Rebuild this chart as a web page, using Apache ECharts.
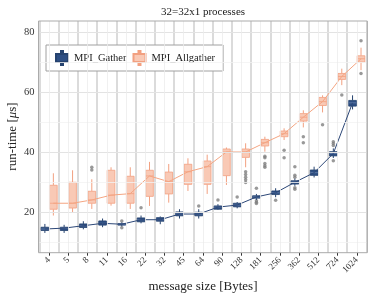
<!DOCTYPE html>
<html><head><meta charset="utf-8">
<script src="https://cdn.jsdelivr.net/npm/echarts@6/dist/echarts.min.js"></script>
<style>html,body{margin:0;padding:0;background:#fff}#c{width:374px;height:299px}</style>
</head><body><div id="c"></div>
<script>
// ---- data ----
const categories = ['4','5','8','11','16','22','32','45','64','90','128','181','256','362','512','724','1024'];
// [lower whisker, q1, median, q3, upper whisker]
const gatherBoxes = [
  [13.1, 13.9, 14.4, 15.0, 16.1],
  [13.1, 13.9, 14.7, 15.0, 15.8],
  [14.3, 14.9, 15.5, 16.1, 17.0],
  [15.0, 15.7, 16.3, 17.1, 17.9],
  [15.3, 15.7, 16.0, 16.2, 16.6],
  [16.3, 16.8, 17.5, 18.1, 18.9],
  [16.0, 17.0, 17.5, 18.2, 18.6],
  [17.9, 18.8, 19.4, 20.1, 21.0],
  [17.9, 18.8, 19.4, 20.0, 21.0],
  [20.8, 21.0, 21.7, 22.1, 22.7],
  [21.3, 21.8, 22.4, 23.0, 23.4],
  [24.1, 24.7, 25.1, 25.5, 26.1],
  [25.0, 25.9, 26.5, 27.1, 28.0],
  [28.8, 29.4, 30.0, 30.5, 31.2],
  [31.6, 32.3, 33.2, 34.1, 35.2],
  [38.1, 38.8, 39.6, 40.2, 41.3],
  [54.3, 55.4, 56.5, 57.3, 59.0]
];
const allgatherBoxes = [
  [18.9, 21.0, 23.0, 29.0, 33.0],
  [20.0, 21.4, 23.0, 30.0, 34.0],
  [21.1, 23.0, 24.1, 27.0, 31.0],
  [22.2, 23.0, 25.7, 34.0, 35.0],
  [21.1, 23.0, 26.2, 32.0, 35.0],
  [22.1, 25.3, 32.1, 34.0, 36.8],
  [23.2, 26.1, 30.2, 33.4, 36.1],
  [27.1, 29.3, 33.5, 36.0, 38.0],
  [26.1, 29.3, 35.2, 37.1, 39.2],
  [29.1, 32.2, 40.1, 41.1, 41.6],
  [35.0, 38.3, 40.1, 41.1, 43.0],
  [40.2, 42.1, 43.2, 44.3, 45.2],
  [44.1, 45.2, 46.2, 47.1, 48.0],
  [48.3, 50.4, 51.7, 52.9, 54.0],
  [53.3, 55.6, 56.9, 58.3, 59.0],
  [62.4, 64.3, 65.3, 66.3, 67.9],
  [67.4, 70.1, 71.2, 72.2, 74.9]
];
// [category index, value]
const gatherOutliers = [
  [4, 17.1], [4, 14.8], [5, 21.5], [8, 22.1], [9, 24.1], [10, 25.1],
  [11, 28.0], [11, 23.8], [11, 23.3], [11, 22.9], [12, 24.0],
  [13, 35.2], [13, 32.3], [13, 31.7], [13, 28.2], [13, 27.7],
  [15, 43.5], [15, 42.9], [15, 42.3], [15, 37.2]
];
const allgatherOutliers = [
  [2, 35.0], [2, 34.1],
  [10, 33.5], [10, 32.6], [10, 31.7], [10, 30.8], [10, 29.9],
  [11, 38.7], [11, 38.2], [11, 36.3], [11, 35.5], [11, 35.0],
  [12, 40.7], [12, 38.2], [13, 45.2], [13, 43.2], [14, 49.2], [15, 59.1],
  [16, 77.2], [16, 66.3]
];
const yTicks = [20, 40, 60, 80];
const yMinorTicks = [10, 30, 50, 70];

// ---- style ----
const FONT = 'Liberation Serif';
const OFF_G = -0.22, OFF_A = 0.22;
const G_FILL = '#2d4e83', G_STROKE = '#26436f', G_MED = '#6680ab', G_LINE = '#2c4777';
const A_FILL = '#f9c9b5', A_STROKE = '#f2a080', A_MED = '#f2a080', A_LINE = '#f4a582';

function makeRender(off, fill, stroke, medColor) {
  return function (params, api) {
    const i = api.value(0);
    const band = api.size([1, 0])[0];
    const cx = api.coord([i, 0])[0] + off * band;
    const w = band * 0.4;
    const y = k => api.coord([i, api.value(k)])[1];
    const lo = y(1), q1 = y(2), med = y(3), q3 = y(4), hi = y(5);
    return {type: 'group', children: [
      {type: 'line', shape: {x1: cx, y1: hi, x2: cx, y2: q3}, style: {stroke: stroke, lineWidth: 1}},
      {type: 'line', shape: {x1: cx, y1: q1, x2: cx, y2: lo}, style: {stroke: stroke, lineWidth: 1}},
      {type: 'rect', shape: {x: cx - w / 2, y: q3, width: w, height: q1 - q3}, style: {fill: fill, stroke: stroke, lineWidth: 0.8}},
      {type: 'line', shape: {x1: cx - w / 2, y1: med, x2: cx + w / 2, y2: med}, style: {stroke: medColor, lineWidth: 0.8}}
    ]};
  };
}

const gridLines = [];
yTicks.forEach(v => gridLines.push({yAxis: v, lineStyle: {color: '#e3e3e3', width: 1, type: 'solid'}}));
yMinorTicks.forEach(v => gridLines.push({yAxis: v, lineStyle: {color: '#f2f2f2', width: 0.8, type: 'solid'}}));
categories.forEach((c, i) => gridLines.push({xAxis: i, lineStyle: {color: '#ececec', width: 0.8, type: 'solid'}}));

const ICON = 'path://M6,0H8V3H13V11H8V14H6V11H1V3H6Z';

const chart = echarts.init(document.getElementById('c'), null, {renderer: 'canvas'});
chart.setOption({
  animation: false,
  grid: {left: 39.5, right: 7.6, top: 21, bottom: 46.3},
  legend: {
    left: 46, top: 45, orient: 'horizontal',
    padding: [5, 8, 5, 9], itemGap: 6, itemWidth: 14, itemHeight: 14,
    borderColor: '#a0a0a0', borderWidth: 1, backgroundColor: '#fff',
    textStyle: {fontFamily: FONT, fontSize: 10.5, color: '#222'},
    data: [{name: 'MPI_Gather', icon: ICON}, {name: 'MPI_Allgather', icon: ICON}]
  },
  xAxis: [{
    type: 'category', data: categories, boundaryGap: true,
    axisLine: {show: false},
    axisTick: {show: true, alignWithLabel: true, length: 3, lineStyle: {color: '#333'}},
    axisLabel: {rotate: 45, margin: 6, fontFamily: FONT, fontSize: 9, color: '#333', interval: 0},
    splitLine: {show: true, interval: 0, lineStyle: {color: '#d2d2d2', width: 1.6}}
  }, {
    type: 'value', min: -0.5, max: 16.5, show: false
  }],
  yAxis: {
    type: 'value', min: 6.5, max: 83.8,
    axisLine: {show: false},
    axisTick: {show: true, length: 3, customValues: yTicks, lineStyle: {color: '#333'}},
    axisLabel: {customValues: yTicks, margin: 5, fontFamily: FONT, fontSize: 10.5, color: '#333'},
    splitLine: {show: false}
  },
  series: [
    {
      type: 'line', name: 'grid', xAxisIndex: 1, data: [], silent: true, z: 0,
      markLine: {silent: true, symbol: ['none', 'none'], label: {show: false}, animation: false, data: gridLines}
    },
    {
      type: 'custom', name: 'MPI_Gather', xAxisIndex: 0, z: 3,
      itemStyle: {color: G_FILL, borderColor: G_STROKE, borderWidth: 1},
      renderItem: makeRender(OFF_G, G_FILL, G_STROKE, G_MED),
      encode: {x: 0, y: [1, 2, 3, 4, 5]},
      data: gatherBoxes.map((b, i) => [i].concat(b))
    },
    {
      type: 'custom', name: 'MPI_Allgather', xAxisIndex: 0, z: 3,
      itemStyle: {color: A_FILL, borderColor: A_STROKE, borderWidth: 1},
      renderItem: makeRender(OFF_A, A_FILL, A_STROKE, A_MED),
      encode: {x: 0, y: [1, 2, 3, 4, 5]},
      data: allgatherBoxes.map((b, i) => [i].concat(b))
    },
    {
      type: 'scatter', name: 'gOut', xAxisIndex: 1, z: 2, symbolSize: 3.5,
      itemStyle: {color: '#808080'}, silent: true,
      data: gatherOutliers.map(p => [p[0] + OFF_G, p[1]])
    },
    {
      type: 'scatter', name: 'aOut', xAxisIndex: 1, z: 2, symbolSize: 3.5,
      itemStyle: {color: '#808080'}, silent: true,
      data: allgatherOutliers.map(p => [p[0] + OFF_A, p[1]])
    },
    {
      type: 'line', name: 'gLine', xAxisIndex: 1, z: 4, showSymbol: false, symbol: 'none', silent: true,
      lineStyle: {color: G_LINE, width: 1},
      data: gatherBoxes.map((b, i) => [i + OFF_G, b[2]])
    },
    {
      type: 'line', name: 'aLine', xAxisIndex: 1, z: 4, showSymbol: false, symbol: 'none', silent: true,
      lineStyle: {color: A_LINE, width: 1},
      data: allgatherBoxes.map((b, i) => [i + OFF_A, b[2]])
    }
  ],
  graphic: [
    {type: 'rect', silent: true, z: 100, shape: {x: 38.5, y: 21, width: 328.8, height: 231.7},
     style: {fill: null, stroke: '#ababab', lineWidth: 1}},
    {type: 'text', silent: true, x: 203, y: 12,
     style: {text: '32=32x1 processes', fontFamily: FONT, fontSize: 11, fill: '#222', align: 'center', verticalAlign: 'middle'}},
    {type: 'text', silent: true, x: 203, y: 287,
     style: {text: 'message size [Bytes]', fontFamily: FONT, fontSize: 13, fill: '#222', align: 'center', verticalAlign: 'middle'}},
    {type: 'text', silent: true, x: 13, y: 136.5, rotation: Math.PI / 2,
     style: {text: '{a|run-time [}{b|μ}{a|s]}', fontFamily: FONT, fontSize: 13, fill: '#222', align: 'center', verticalAlign: 'middle',
       rich: {a: {fontFamily: FONT, fontSize: 13, fill: '#222'}, b: {fontFamily: FONT, fontSize: 13, fontStyle: 'italic', fill: '#222'}}}}
  ]
});
</script>
</body></html>
